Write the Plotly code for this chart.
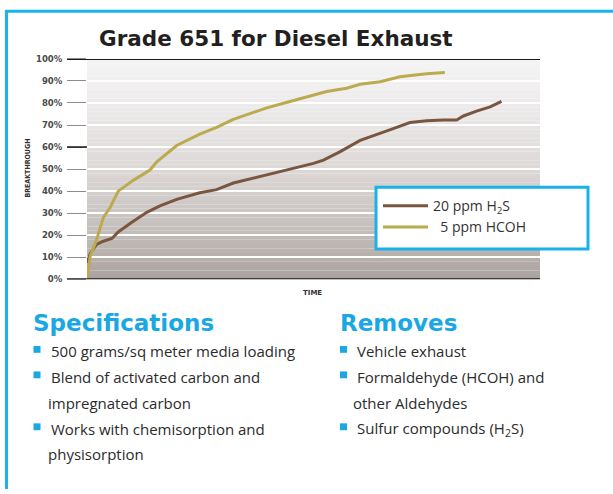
import plotly.graph_objects as go

W, H = 613, 494

# ---------------- data ----------------
h2s_time = [0, 0.7, 2.1, 3.6, 5.5, 6.9, 9.9, 13.2, 16.1, 19.8, 24.9, 28.6, 32.3, 36.7,
            41.1, 45.5, 50.0, 52.2, 55.8, 60.3, 64.0, 67.6, 71.3, 75.0, 78.7, 81.6,
            83.1, 86.0, 89.0, 91.5]
h2s_vals = [7.5, 11.5, 15.8, 17.3, 18.5, 21.5, 25.9, 30.4, 33.3, 36.3, 39.3, 40.7, 43.7, 45.9,
            48.1, 50.4, 52.6, 54.1, 57.8, 63.0, 65.9, 68.4, 71.1, 71.9, 72.3, 72.3,
            74.1, 76.3, 78.2, 80.7]

hcoh_time = [0, 0.7, 2.1, 3.6, 5.1, 6.9, 10.2, 13.9, 15.4, 19.8, 24.9, 28.6, 32.3, 36.7,
             39.7, 44.8, 49.2, 52.9, 57.3, 60.3, 64.7, 69.1, 72.0, 75.0, 79.0]
hcoh_vals = [0, 10.4, 17.8, 28.0, 32.6, 40.0, 44.9, 49.6, 53.3, 60.7, 65.9, 68.9, 72.6, 75.6,
             77.8, 80.7, 83.0, 85.2, 86.7, 88.5, 89.6, 91.9, 92.6, 93.3, 93.8]

y_ticks = [0, 10, 20, 30, 40, 50, 60, 70, 80, 90, 100]
y_tick_labels = ["0%", "10%", "20%", "30%", "40%", "50%", "60%", "70%", "80%", "90%", "100%"]

series_names = ["20 ppm H<sub>2</sub>S", "\u00a0\u00a05 ppm HCOH"]

spec_items = ["500 grams/sq meter media loading", "Blend of activated carbon and",
              "impregnated carbon", "Works with chemisorption and", "physisorption"]
removes_items = ["Vehicle exhaust", "Formaldehyde (HCOH) and", "other Aldehydes",
                 "Sulfur compounds (H<sub>2</sub>S)"]

# ---------------- layout helpers ----------------
def px(x):
    return x / W

def py(y):
    return (H - y) / H

PX0, PX1 = 87, 540
PY_TOP, PY_BOT = 55, 280

fig = go.Figure()
fig.add_trace(go.Scatter(x=h2s_time, y=h2s_vals, mode="lines", name=series_names[0],
                         line=dict(color="#7a5641", width=3)))
fig.add_trace(go.Scatter(x=hcoh_time, y=hcoh_vals, mode="lines", name=series_names[1],
                         line=dict(color="#bcaa4f", width=3)))

shapes = []
# gradient background bands
anchors = [(0, (170, 162, 158)), (20, (194, 188, 185)), (50, (220, 216, 214)),
           (80, (237, 235, 235)), (100, (245, 244, 244))]

def col_at(v):
    for (a, ca), (b, cb) in zip(anchors[:-1], anchors[1:]):
        if a <= v <= b:
            f = (v - a) / (b - a)
            return "rgb(%d,%d,%d)" % tuple(round(ca[i] + f * (cb[i] - ca[i])) for i in range(3))
    return "rgb(240,240,240)"

step = 2
for v in range(0, 100, step):
    shapes.append(dict(type="rect", xref="paper", yref="y", x0=px(PX0), x1=px(PX1),
                       y0=v, y1=v + step, fillcolor=col_at(v + step / 2),
                       line=dict(width=0), layer="below"))
# black rules at 0%, 60% tick, 100%
for v, x0 in [(100, 67), (0, 67)]:
    shapes.append(dict(type="line", xref="paper", yref="y", x0=px(x0), x1=px(PX1), y0=v, y1=v,
                       line=dict(color="#1a1a1a", width=2)))
shapes.append(dict(type="line", xref="paper", yref="y", x0=px(67), x1=px(PX0), y0=60, y1=60,
                   line=dict(color="#1a1a1a", width=1.5)))
# legend box
shapes.append(dict(type="rect", xref="paper", yref="paper", x0=px(376), x1=px(588),
                   y0=py(249), y1=py(186), fillcolor="white",
                   line=dict(color="#19b1ea", width=3)))
# blue frame
shapes.append(dict(type="line", xref="paper", yref="paper", x0=px(5), x1=1, y0=py(6.5), y1=py(6.5),
                   line=dict(color="#19b4ec", width=3)))
shapes.append(dict(type="line", xref="paper", yref="paper", x0=px(6.5), x1=px(6.5), y0=py(5), y1=0,
                   line=dict(color="#19b4ec", width=3)))

# bullets
bullet_rows = [351.5, 377.5, 430.5]
for yc in bullet_rows:
    for bx in (33.5, 340):
        shapes.append(dict(type="rect", xref="paper", yref="paper", x0=px(bx), x1=px(bx + 7),
                           y0=py(yc + 3.5), y1=py(yc - 3.5), fillcolor="#19a8e4",
                           line=dict(width=0)))

annotations = []
annotations.append(dict(text="<b>Grade 651 for Diesel Exhaust</b>", x=px(276), y=py(34),
                        xref="paper", yref="paper", showarrow=False, xanchor="center",
                        yanchor="middle",
                        font=dict(family="DejaVu Sans", size=21.5, color="#231f20", weight="bold")))
annotations.append(dict(text="BREAKTHROUGH", x=px(28), y=py(167), xref="paper", yref="paper",
                        showarrow=False, textangle=-90, xanchor="center", yanchor="middle",
                        font=dict(family="DejaVu Sans Condensed, DejaVu Sans", size=7,
                                  color="#333333", weight="bold")))
annotations.append(dict(text="TIME", x=px(312), y=py(294), xref="paper", yref="paper",
                        showarrow=False, xanchor="center", yanchor="middle",
                        font=dict(family="DejaVu Sans", size=7, color="#333333", weight="bold")))
annotations.append(dict(text="<b>Specifications</b>", x=px(31), y=py(325), xref="paper", yref="paper",
                        showarrow=False, xanchor="left", yanchor="middle",
                        font=dict(family="DejaVu Sans", size=23, color="#19a8e4", weight="bold")))
annotations.append(dict(text="<b>Removes</b>", x=px(338), y=py(325), xref="paper", yref="paper",
                        showarrow=False, xanchor="left", yanchor="middle",
                        font=dict(family="DejaVu Sans", size=23, color="#19a8e4", weight="bold")))
rows = [353, 379.5, 406, 432.5, 458.5]
left_x = [48.5, 48.5, 45.5, 48.5, 45.5]
for t, yc, lx in zip(spec_items, rows, left_x):
    annotations.append(dict(text=t, x=px(lx), y=py(yc), xref="paper", yref="paper",
                            showarrow=False, xanchor="left", yanchor="middle",
                            font=dict(family="Open Sans", size=15, color="#2b2b2b", weight=400)))
right_x = [355, 355, 351, 355]
for t, yc, rx in zip(removes_items, rows, right_x):
    annotations.append(dict(text=t, x=px(rx), y=py(yc), xref="paper", yref="paper",
                            showarrow=False, xanchor="left", yanchor="middle",
                            font=dict(family="Open Sans", size=15, color="#2b2b2b", weight=400)))

fig.update_layout(
    width=W, height=H, margin=dict(l=0, r=0, t=0, b=0),
    paper_bgcolor="white", plot_bgcolor="rgba(0,0,0,0)",
    shapes=shapes, annotations=annotations,
    showlegend=True,
    legend=dict(x=px(378), y=py(189), xanchor="left", yanchor="top",
                bgcolor="rgba(0,0,0,0)", borderwidth=0, itemwidth=45,
                font=dict(family="Open Sans", size=14, color="#333333"),
                tracegroupgap=0),
    xaxis=dict(domain=[px(PX0), px(PX1)], range=[0, 100], showticklabels=False,
               showgrid=False, zeroline=False, showline=False, fixedrange=True),
    yaxis=dict(domain=[py(PY_BOT), py(PY_TOP)], range=[0, 100], tickvals=y_ticks,
               ticktext=y_tick_labels, ticks="outside", ticklen=19, tickwidth=1.2,
               tickcolor="#8c8c8c", ticklabelstandoff=3,
               tickfont=dict(family="DejaVu Sans", size=8.5, color="#4a4a4a", weight="bold"),
               showgrid=True, gridcolor="white", gridwidth=2, zeroline=False, showline=False,
               fixedrange=True),
)

fig.write_html("out.html", config={"displayModeBar": False},
               post_script="document.body.style.margin='0';document.body.style.padding='0';")
